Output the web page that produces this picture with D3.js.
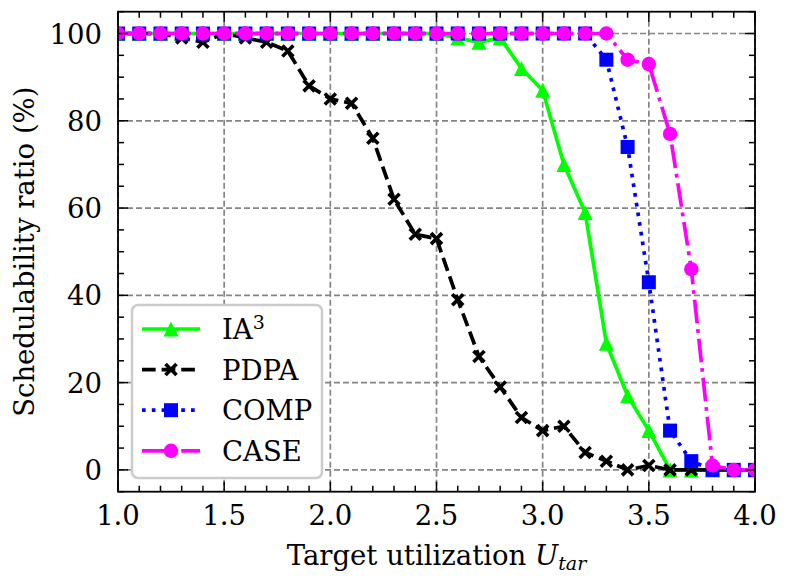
<!DOCTYPE html>
<html><head><meta charset="utf-8">
<script src="https://cdn.jsdelivr.net/npm/d3@7"></script>
<style>
html,body{margin:0;padding:0;background:#fff;}
text{font-family:"DejaVu Serif",serif;fill:#000;}
</style></head>
<body>
<svg id="chart" width="790" height="588"></svg>
<script>
// ---- data ----
const utilization = [1.0,1.1,1.2,1.3,1.4,1.5,1.6,1.7,1.8,1.9,2.0,2.1,2.2,2.3,2.4,2.5,2.6,2.7,2.8,2.9,3.0,3.1,3.2,3.3,3.4,3.5,3.6,3.7,3.8,3.9,4.0];
const ia3  = [100,100,100,100,100,100,100,100,100,100,100,100,100,100,100,100,99,98,99,92,87,70,59,29,17,9,0,0,0,0,0];
const pdpa = [100,100,100,99,98,100,99,98,96,88,85,84,76,62,54,53,39,26,19,12,9,10,4,2,0,1,0,0,0,0,0];
const comp = [100,100,100,100,100,100,100,100,100,100,100,100,100,100,100,100,100,100,100,100,100,100,100,94,74,43,9,2,0,0,0];
const caseS= [100,100,100,100,100,100,100,100,100,100,100,100,100,100,100,100,100,100,100,100,100,100,100,100,94,93,77,46,1,0,0];
const xTicks = [1.0,1.5,2.0,2.5,3.0,3.5,4.0];
const yTicks = [0,20,40,60,80,100];
const seriesNames = ["IA3","PDPA","COMP","CASE"];

// ---- layout ----
const svg = d3.select("#chart");
const L=118, R=755, T=11.7, B=491.7;
const x = d3.scaleLinear().domain([1.0,4.0]).range([L,R]);
const y = d3.scaleLinear().domain([-5,105]).range([B,T]);
const lw = 3.7;

svg.append("defs").append("clipPath").attr("id","clip")
  .append("rect").attr("x",L).attr("y",T).attr("width",R-L).attr("height",B-T);

// grid
const grid = svg.append("g");
grid.selectAll("line.gx").data(xTicks).join("line")
  .attr("x1",d=>x(d)).attr("x2",d=>x(d)).attr("y1",T).attr("y2",B)
  .attr("stroke","#858585").attr("stroke-width",1.7).attr("stroke-dasharray","6,3");
grid.selectAll("line.gy").data(yTicks).join("line")
  .attr("y1",d=>y(d)).attr("y2",d=>y(d)).attr("x1",L).attr("x2",R)
  .attr("stroke","#858585").attr("stroke-width",1.7).attr("stroke-dasharray","6,3");

// series
const series = [
  {name:"IA3", vals:ia3, color:"#00ff00", dash:null, marker:"tri"},
  {name:"PDPA", vals:pdpa, color:"#000000", dash:[3.7*lw,1.6*lw].join(","), marker:"x"},
  {name:"COMP", vals:comp, color:"#0000ff", dash:[1*lw,1.65*lw].join(","), marker:"sq"},
  {name:"CASE", vals:caseS, color:"#ff00ff", dash:[6.4*lw,1.6*lw,1*lw,1.6*lw].join(","), marker:"circ"}
];

function drawMarker(g, type, cx, cy, color){
  if(type==="circ"){
    g.append("circle").attr("cx",cx).attr("cy",cy).attr("r",7.2).attr("fill",color);
  } else if(type==="sq"){
    g.append("rect").attr("x",cx-7).attr("y",cy-7).attr("width",14).attr("height",14).attr("fill",color);
  } else if(type==="tri"){
    const s=7.5;
    g.append("path").attr("d",`M${cx},${cy-s}L${cx-s},${cy+s}L${cx+s},${cy+s}Z`).attr("fill",color);
  } else if(type==="x"){
    const s=5.5;
    g.append("path").attr("d",`M${cx-s},${cy-s}L${cx+s},${cy+s}M${cx-s},${cy+s}L${cx+s},${cy-s}`)
      .attr("stroke",color).attr("stroke-width",3.6).attr("fill","none");
  }
}

const plot = svg.append("g").attr("clip-path","url(#clip)");
const line = d3.line().x((d,i)=>x(utilization[i])).y(d=>y(d));
series.forEach(s=>{
  const g = plot.append("g");
  g.append("path").attr("d",line(s.vals)).attr("fill","none")
    .attr("stroke",s.color).attr("stroke-width",lw)
    .attr("stroke-dasharray",s.dash).attr("stroke-linejoin","round");
  s.vals.forEach((v,i)=>drawMarker(g,s.marker,x(utilization[i]),y(v),s.color));
});

// axes (ticks inward on all sides)
const xMinor = utilization;
const yMinor = [-5,0,5,10,15,20,25,30,35,40,45,50,55,60,65,70,75,80,85,90,95,100,105];
const ax = svg.append("g").attr("stroke","#000");
const majL=10, minL=6, tw=1.5;
xMinor.forEach(v=>{ if(!xTicks.includes(+v.toFixed(1))){
  ax.append("line").attr("x1",x(v)).attr("x2",x(v)).attr("y1",B).attr("y2",B-minL).attr("stroke-width",tw);
  ax.append("line").attr("x1",x(v)).attr("x2",x(v)).attr("y1",T).attr("y2",T+minL).attr("stroke-width",tw);
}});
xTicks.forEach(v=>{
  ax.append("line").attr("x1",x(v)).attr("x2",x(v)).attr("y1",B).attr("y2",B-majL).attr("stroke-width",tw);
  ax.append("line").attr("x1",x(v)).attr("x2",x(v)).attr("y1",T).attr("y2",T+majL).attr("stroke-width",tw);
});
yMinor.forEach(v=>{ if(!yTicks.includes(v)){
  ax.append("line").attr("y1",y(v)).attr("y2",y(v)).attr("x1",L).attr("x2",L+minL).attr("stroke-width",tw);
  ax.append("line").attr("y1",y(v)).attr("y2",y(v)).attr("x1",R).attr("x2",R-minL).attr("stroke-width",tw);
}});
yTicks.forEach(v=>{
  ax.append("line").attr("y1",y(v)).attr("y2",y(v)).attr("x1",L).attr("x2",L+majL).attr("stroke-width",tw);
  ax.append("line").attr("y1",y(v)).attr("y2",y(v)).attr("x1",R).attr("x2",R-majL).attr("stroke-width",tw);
});
ax.append("rect").attr("x",L).attr("y",T).attr("width",R-L).attr("height",B-T)
  .attr("fill","none").attr("stroke-width",1.8);

const fs = 27.5;
svg.append("g").selectAll("text").data(xTicks).join("text")
  .attr("x",d=>x(d)).attr("y",525).attr("text-anchor","middle").attr("font-size",fs)
  .text(d=>d.toFixed(1));
svg.append("g").selectAll("text").data(yTicks).join("text")
  .attr("x",102).attr("y",d=>y(d)+10).attr("text-anchor","end").attr("font-size",fs)
  .text(d=>d);

// axis labels
const xl = svg.append("text").attr("x",(L+R)/2).attr("y",565).attr("text-anchor","middle").attr("font-size",fs);
xl.append("tspan").text("Target utilization ");
xl.append("tspan").attr("font-style","italic").text("U");
xl.append("tspan").attr("font-style","italic").attr("font-size",19).attr("dy",5).text("tar");
svg.append("text").attr("transform",`translate(33.5,${(T+B)/2}) rotate(-90)`)
  .attr("text-anchor","middle").attr("font-size",fs).text("Schedulability ratio (%)");

// legend
const lg = svg.append("g");
lg.append("rect").attr("x",132).attr("y",305).attr("width",190).attr("height",173)
  .attr("rx",6).attr("fill","#fff").attr("stroke","#cccccc").attr("stroke-width",2.5);
series.forEach((s,i)=>{
  const cy = 329 + i*40.6;
  lg.append("line").attr("x1",142).attr("x2",200).attr("y1",cy).attr("y2",cy)
    .attr("stroke",s.color).attr("stroke-width",lw).attr("stroke-dasharray",s.dash);
  drawMarker(lg,s.marker,171,cy,s.color);
  const t = lg.append("text").attr("x",222).attr("y",cy+10).attr("font-size",fs);
  if(s.name==="IA3"){
    t.append("tspan").text("IA");
    t.append("tspan").attr("font-size",19).attr("dy",-10).text("3");
  } else t.text(s.name);
});
</script>
</body></html>
